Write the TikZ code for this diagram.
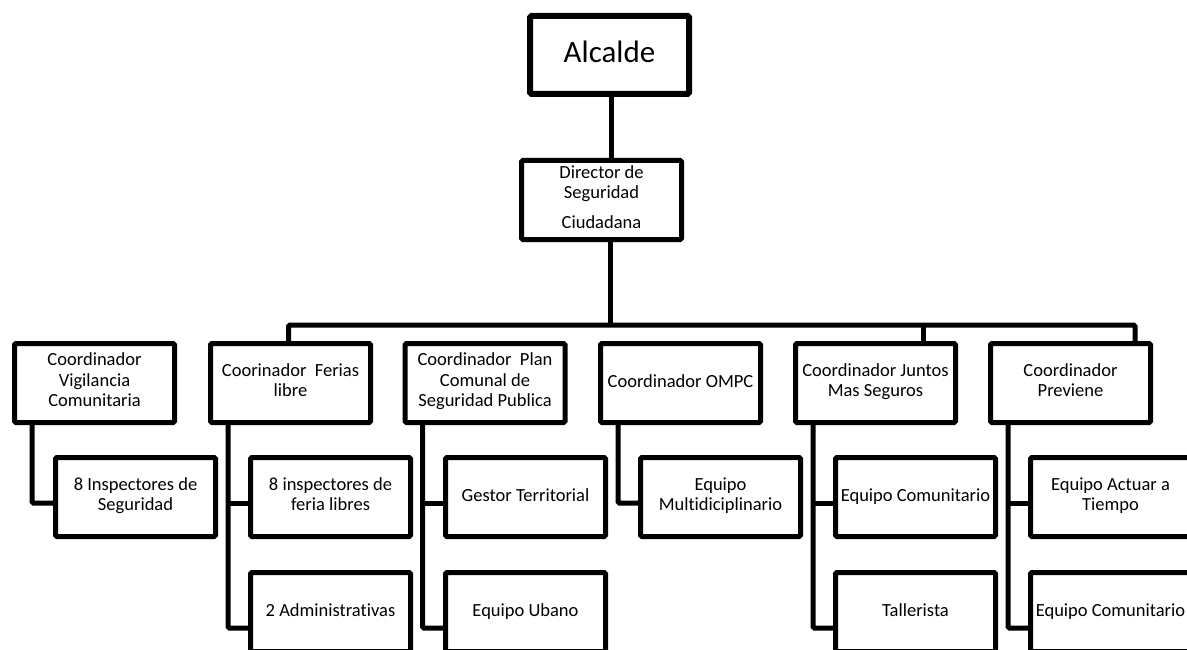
\documentclass[tikz,border=0pt]{standalone}
\usepackage{fontspec}
\setmainfont{Carlito}[Ligatures=NoCommon]
\begin{document}
\begin{tikzpicture}[x=1pt,y=-1pt,
  box/.style={draw=black,line width=5pt,rounded corners=1.5pt,inner sep=0pt,
    minimum width=160pt,minimum height=79pt,align=center,
    font=\fontsize{18.5}{20.5}\selectfont,
    execute at begin node=\strut,execute at end node=\strut},
  link/.style={draw=black,line width=5pt,rounded corners=1.5pt}]
\useasboundingbox (0,0) rectangle (1187,650);
% top
\node[box,line width=6pt,minimum width=159pt,minimum height=78pt,font=\fontsize{31}{36}\selectfont] (alc) at (609.5,55) {Alcalde};
\node[box] (dir) at (601.5,200) {Director de\\Seguridad\\[9pt]Ciudadana};
% coordinators
\node[box] (vig) at (94.5,383) {Coordinador\\Vigilancia\\Comunitaria};
\node[box] (fer) at (290.5,383) {Coorinador\ \ Ferias\\libre};
\node[box] (pla) at (485,383) {Coordinador\ \ Plan\\Comunal de\\Seguridad Publica};
\node[box] (omp) at (680.5,383) {Coordinador OMPC};
\node[box] (jun) at (875.5,383) {Coordinador Juntos\\Mas Seguros};
\node[box] (pre) at (1070.5,383) {Coordinador\\Previene};
% children row 1
\node[box] (vig1) at (135.5,497) {8 Inspectores de\\Seguridad};
\node[box] (fer1) at (330.5,497) {8 inspectores de\\feria libres};
\node[box] (pla1) at (525.5,497) {Gestor Territorial};
\node[box] (omp1) at (720.5,497) {Equipo\\Multidiciplinario};
\node[box] (jun1) at (915.5,497) {Equipo Comunitario};
\node[box] (pre1) at (1110.5,497) {Equipo Actuar a\\Tiempo};
% children row 2
\node[box] (fer2) at (330.5,612) {2 Administrativas};
\node[box] (pla2) at (525.5,612) {Equipo Ubano};
\node[box] (jun2) at (915.5,612) {Tallerista};
\node[box] (pre2) at (1110.5,612) {Equipo Comunitario};
% top connectors
\coordinate (bar) at (610,325);
\draw[link] ([xshift=1.5pt]alc.south) -- ([xshift=1.5pt]alc.south |- dir.north);
\draw[link] (bar |- dir.south) -- (bar);
\draw[link] ([xshift=-2pt]fer.north) |- (bar);
\draw[link] ([xshift=64.5pt]pre.north) |- (bar);
\draw[link] ([xshift=47.5pt]jun.north) -- ([xshift=47.5pt]jun.north |- bar);
% child connectors
\foreach \p in {vig,omp}{
  \draw[link] ([xshift=-62.5pt]\p.south) |- ([yshift=-6pt]\p1.west);
}
\foreach \p in {fer,pla,jun,pre}{
  \draw[link] ([xshift=-62.5pt]\p.south) |- ([yshift=-16pt]\p2.west);
  \draw[link] ([xshift=-62.5pt]\p.south |- \p1.west) ++(0,-6pt) -- ([yshift=-6pt]\p1.west);
}
\end{tikzpicture}
\end{document}
